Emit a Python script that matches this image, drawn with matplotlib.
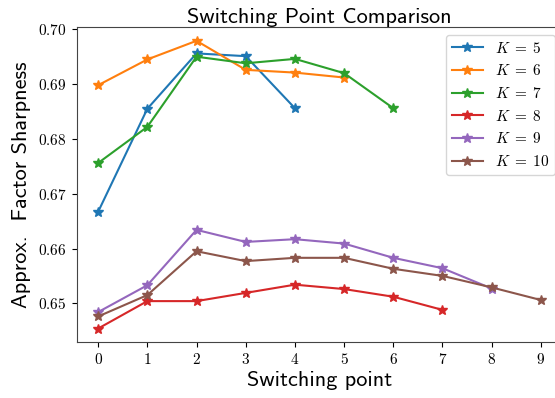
import numpy as np
import matplotlib
matplotlib.use("Agg")
import matplotlib.pyplot as plt

plt.rcParams['mathtext.fontset'] = 'cm'
plt.rcParams['axes.formatter.use_mathtext'] = True

# sharpness per switching point, one list per K
k5 = [0.6667, 0.6855, 0.6956, 0.6951, 0.6856]
k6 = [0.6898, 0.6945, 0.6979, 0.6926, 0.6921, 0.6912]
k7 = [0.6756, 0.6822, 0.6950, 0.6938, 0.6946, 0.6920, 0.6856]
k8 = [0.6454, 0.6504, 0.6504, 0.6519, 0.6534, 0.6526, 0.6512, 0.6488]
k9 = [0.6484, 0.6533, 0.6634, 0.6612, 0.6617, 0.6609, 0.6583, 0.6564, 0.6527]
k10 = [0.6476, 0.6515, 0.6595, 0.6577, 0.6583, 0.6583, 0.6563, 0.6550, 0.6529, 0.6506]
series = [(5, k5), (6, k6), (7, k7), (8, k8), (9, k9), (10, k10)]

fig = plt.figure(figsize=(5.55, 3.98), dpi=100)
ax = fig.add_axes([76.5/555, 1-342/398, (563-76.5)/555, (342-27)/398])

for k, vals in series:
    ax.plot(np.arange(len(vals)), vals, marker='*', markersize=7, linewidth=1.5,
            label=r'$K\;=\;%d$' % k)

ax.set_xticks(range(10))
ax.set_yticks([0.65, 0.66, 0.67, 0.68, 0.69, 0.70])
ax.set_ylim(0.64294, 0.70042)
ax.set_xlim(-0.44, 9.45)
ax.tick_params(labelsize=11)
for lbl in ax.get_xticklabels() + ax.get_yticklabels():
    lbl.set_family('cmr10')
for s in ax.spines.values():
    s.set_color('#444444')

ax.set_xlabel('Switching point', fontsize=16, family='cmss10', labelpad=3)
ax.set_ylabel('Approx.  Factor Sharpness', fontsize=16, family='cmss10', labelpad=5)
ax.set_title('Switching Point Comparison', fontsize=16, family='cmss10', pad=3)
ax.legend(loc='upper right', fontsize=11)

fig.savefig('out.png', dpi=100)
